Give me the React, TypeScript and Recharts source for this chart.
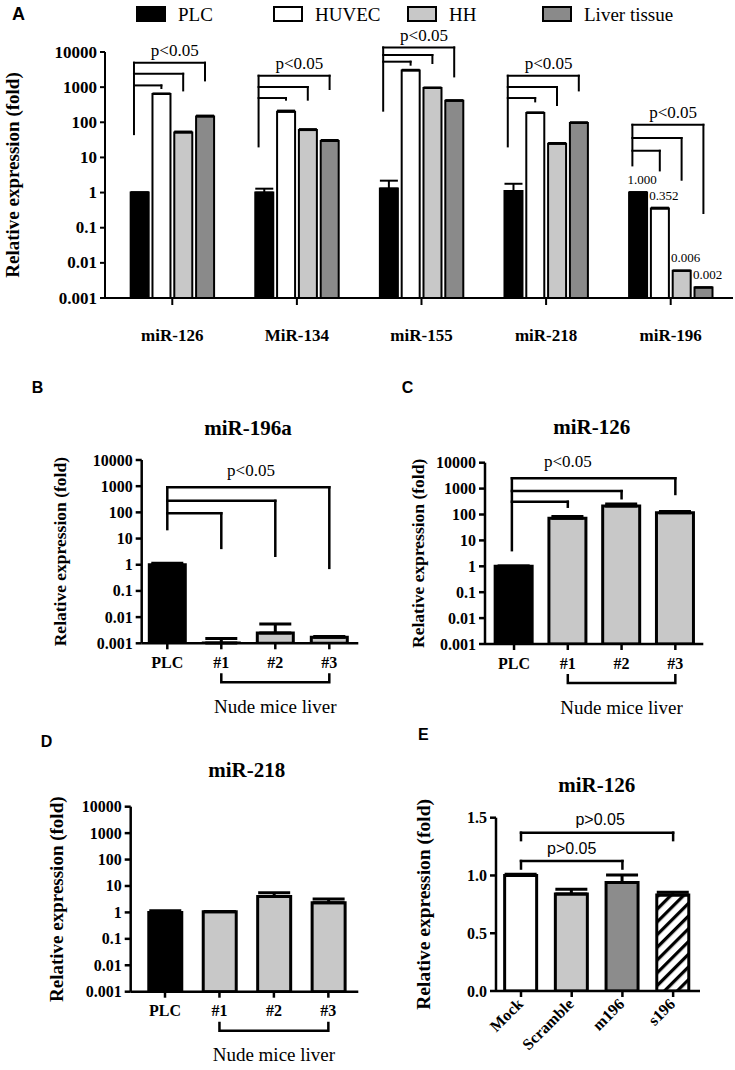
import React from 'react'
import { BarChart, Bar, XAxis, YAxis, ErrorBar, Cell, ReferenceLine, ReferenceDot, LabelList } from 'recharts'

const SERIF = '"Liberation Serif", "Times New Roman", Times, serif'
const SANS = '"Liberation Sans", Arial, Helvetica, sans-serif'

// ---- A: expression in cell lines / tissue (log fold)
const categoriesA = ['miR-126', 'MiR-134', 'miR-155', 'miR-218', 'miR-196']
const seriesA = ['PLC', 'HUVEC', 'HH', 'Liver tissue']
const plcA = [1.0, 1.0, 1.3, 1.1, 1.0]
const plcErrA = [0.02, 0.29, 0.88, 0.68, 0.03]
const huvecA = [637, 200, 3000, 184, 0.352]
const huvecErrA = [25, 15, 120, 8, 0.02]
const hhA = [51.5, 60, 945, 24.5, 0.006]
const hhErrA = [3, 4, 35, 1.2, 0]
const liverA = [147, 29.3, 411, 95.5, 0.002]
const liverErrA = [8, 2, 15, 5, 0]
const labeledCategoryA = 'miR-196'
// brackets: level of each arm (low -> high), where each right leg stops, where the shared left leg stops
const sigLevelsA = [[1120, 2410, 4960], [490, 1007, 2118], [5300, 8220, 13500], [490, 1007, 2118], [15.5, 35.7, 85]]
const sigDropsA = [[944, 807, 1555], [440, 440, 884], [4350, 4860, 2020], [393, 310, 807], [4.27, 2.32, 0.262]]
const sigRootA = [46, 20.6, 214, 20.6, 5.93]

// ---- B / C / D: nude mice liver
const categoriesNude = ['PLC', '#1', '#2', '#3']
const nudeGroup = ['#1', '#3']
const mir196aValues = [1.0, 0.00103, 0.0025, 0.0017]
const mir196aErrors = [0.15, 0.0005, 0.003, 0.0001]
const sigLevelsB = [93, 275, 912]
const sigDropsB = [4.4, 2.2, 0.76]
const sigRootB = 23
const mir126Values = [1.0, 71, 213, 117]
const mir126Errors = [0.03, 12, 42, 15]
const sigLevelsC = [310, 800, 2500]
const sigDropsC = [200, 425, 620]
const sigRootC = 4.2
const mir218Values = [1.0, 1.05, 4.0, 2.3]
const mir218Errors = [0.15, 0.03, 1.6, 0.9]

// ---- E: miR-126 after treatment (linear)
const categoriesE = ['Mock', 'Scramble', 'm196', 's196']
const mir126TreatValues = [1.0, 0.84, 0.94, 0.83]
const mir126TreatErrors = [0.01, 0.04, 0.065, 0.025]
const sigPairsE = [['Mock', 'm196'], ['Mock', 's196']]
const sigLevelsE = [1.125, 1.37]
const sigDropsE = [1.06, 1.306]

const LOG_TICKS = [0.001, 0.01, 0.1, 1, 10, 100, 1000, 10000]
const LIN_TICKS_E = [0, 0.5, 1.0, 1.5]

const FILL_A = ['#000000', '#ffffff', '#c8c8c8', '#8a8a8a']
const FILL_NUDE = ['#000000', '#c8c8c8', '#c8c8c8', '#c8c8c8']
const FILL_E = ['#ffffff', '#c8c8c8', '#8c8c8c', 'url(#hatchS196)']

const PITCH_A = 0.175
const seriesValuesA = [plcA, huvecA, hhA, liverA]
const seriesErrorsA = [plcErrA, huvecErrA, hhErrA, liverErrA]
const rowsA = categoriesA.flatMap((cat, g) =>
  seriesValuesA.map((vals, s) => ({
    x: g + (s - 1.5) * PITCH_A,
    value: vals[g],
    err: [0, seriesErrorsA[s][g]],
    series: s,
    note: cat === labeledCategoryA ? vals[g].toFixed(3) : undefined,
  }))
)

const singleRows = (values: number[], errors: number[]) =>
  values.map((v, i) => ({ x: i, value: v, err: [0, errors[i]] }))

const rowsB = singleRows(mir196aValues, mir196aErrors)
const rowsC = singleRows(mir126Values, mir126Errors)
const rowsD = singleRows(mir218Values, mir218Errors)
const rowsE = singleRows(mir126TreatValues, mir126TreatErrors)

const axisStyle = (w: number) => ({ stroke: '#000', strokeWidth: w })
const font = (family: string, size: number, bold = false): React.CSSProperties => ({
  fontFamily: family,
  fontSize: size,
  fontWeight: bold ? 700 : 400,
  fill: '#000',
})

function seg(key: string, x1: number, y1: number, x2: number, y2: number, sw: number) {
  return (
    <ReferenceLine
      key={key}
      segment={[{ x: x1, y: y1 }, { x: x2, y: y2 }]}
      stroke="#000"
      strokeWidth={sw}
      strokeLinecap="square"
      ifOverflow="visible"
    />
  )
}

function bracketTree(key: string, rootX: number, rootEnd: number, levels: number[], rightXs: number[], drops: number[], sw: number) {
  const top = Math.max(...levels)
  const out = [seg(key + 'root', rootX, rootEnd, rootX, top, sw)]
  levels.forEach((lv, k) => {
    out.push(seg(key + 'h' + k, rootX, lv, rightXs[k], lv, sw))
    out.push(seg(key + 'v' + k, rightXs[k], lv, rightXs[k], drops[k], sw))
  })
  return out
}

function pMark(key: string, x: number, y: number, text: string, lift: number, family: string, size: number) {
  return (
    <ReferenceDot
      key={key}
      x={x}
      y={y}
      r={1}
      fill="none"
      stroke="none"
      ifOverflow="visible"
      label={(props: any) => {
        const vb = props.viewBox
        if (!vb) return null
        return (
          <text
            x={vb.x + (vb.width || 0) / 2}
            y={vb.y + (vb.height || 0) / 2 - lift}
            textAnchor="middle"
            dominantBaseline="central"
            style={font(family, size)}
          >
            {text}
          </text>
        )
      }}
    />
  )
}

const yLabel = (dx: number, size: number) => (props: any) => {
  const vb = props.viewBox
  if (!vb) return null
  const cx = vb.x + dx
  const cy = vb.y + vb.height / 2
  return (
    <text x={cx} y={cy} transform={`rotate(-90 ${cx} ${cy})`} textAnchor="middle" dominantBaseline="central" style={font(SERIF, size, true)}>
      Relative expression (fold)
    </text>
  )
}

const nudeLabel = (domain: [number, number]) => (props: any) => {
  const vb = props.viewBox
  if (!vb) return null
  const px = (v: number) => vb.x + ((v - domain[0]) / (domain[1] - domain[0])) * vb.width
  const a = categoriesNude.indexOf(nudeGroup[0])
  const b = categoriesNude.indexOf(nudeGroup[1])
  const y0 = vb.y
  return (
    <g>
      <path d={`M${px(a)},${y0 + 30} V${y0 + 39} H${px(b)} V${y0 + 30}`} fill="none" stroke="#000" strokeWidth={2.5} />
      <text x={px((a + b) / 2)} y={y0 + 63} textAnchor="middle" dominantBaseline="central" style={font(SERIF, 19)}>
        Nude mice liver
      </text>
    </g>
  )
}

const tickA = ({ x, y, payload }: any) => (
  <text x={x} y={y + 35} textAnchor="middle" style={font(SERIF, 17, true)}>
    {categoriesA[Math.round(payload.value)]}
  </text>
)

const tickNude = ({ x, y, payload }: any) => (
  <text x={x} y={y + 16.5} textAnchor="middle" style={font(SERIF, 16, true)}>
    {categoriesNude[Math.round(payload.value)]}
  </text>
)

const tickE = ({ x, y, payload }: any) => {
  const tx = x + 3
  const ty = y + 6
  return (
    <text x={tx} y={ty} transform={`rotate(-45 ${tx} ${ty})`} textAnchor="end" style={font(SERIF, 16, true)}>
      {categoriesE[Math.round(payload.value)]}
    </text>
  )
}

const yTick = (size: number, fmt: (v: number) => string) => ({ x, y, payload }: any) => (
  <text x={x} y={y} textAnchor="end" dominantBaseline="central" style={font(SERIF, size, true)}>
    {fmt(payload.value)}
  </text>
)

const noteLabel = (p: any) => {
  if (p.value == null) return null
  const vb = p.viewBox || p
  return (
    <text x={vb.x + vb.width / 2 + 4} y={vb.y - 8.5} textAnchor="middle" style={font(SERIF, 13)}>
      {p.value}
    </text>
  )
}

type LogPanelProps = {
  left: number
  top: number
  width: number
  height: number
  margin: { top: number; right: number; bottom: number; left: number }
  yWidth: number
  xHeight: number
  labelDx: number
  labelSize: number
  domainX: [number, number]
  rows: { x: number; value: number; err: number[] }[]
  barSize: number
  children?: React.ReactNode
}

function LogNudePanel({ left, top, width, height, margin, yWidth, xHeight, labelDx, labelSize, domainX, rows, barSize, children }: LogPanelProps) {
  return (
    <div style={{ position: 'absolute', left, top }}>
      <BarChart width={width} height={height} data={rows} margin={margin}>
        <XAxis
          dataKey="x"
          type="number"
          domain={domainX}
          ticks={categoriesNude.map((_, i) => i)}
          interval={0}
          allowDataOverflow
          height={xHeight}
          tick={tickNude}
          tickSize={6}
          tickMargin={2}
          axisLine={axisStyle(2.5)}
          tickLine={axisStyle(2.5)}
          label={nudeLabel(domainX)}
        />
        <YAxis
          type="number"
          scale="log"
          domain={[0.001, 10000]}
          ticks={LOG_TICKS}
          interval={0}
          allowDataOverflow
          width={yWidth}
          tick={yTick(16, (v) => String(v))}
          tickSize={6}
          tickMargin={3}
          axisLine={axisStyle(2.5)}
          tickLine={axisStyle(2.5)}
          label={yLabel(labelDx, labelSize)}
        />
        <Bar dataKey="value" barSize={barSize} stroke="#000" strokeWidth={3} isAnimationActive={false}>
          {rows.map((r, i) => (
            <Cell key={i} fill={FILL_NUDE[i]} />
          ))}
          <ErrorBar dataKey="err" direction="y" width={16} stroke="#000" strokeWidth={3} isAnimationActive={false} />
        </Bar>
        {children}
      </BarChart>
    </div>
  )
}

export default function App() {
  const legendX = [137, 274, 408, 543]
  return (
    <div style={{ position: 'absolute', left: 0, top: 0, width: 735, height: 1070, background: '#fff', overflow: 'hidden' }}>
      {/* Panel A */}
      <div style={{ position: 'absolute', left: 0, top: 0 }}>
        <BarChart width={735} height={345} data={rowsA} margin={{ top: 52, right: 2, bottom: 7, left: 0 }}>
          <XAxis
            dataKey="x"
            type="number"
            domain={[-0.54, 4.5]}
            ticks={categoriesA.map((_, i) => i)}
            interval={0}
            allowDataOverflow
            height={40}
            tick={tickA}
            tickSize={7}
            tickMargin={1}
            axisLine={axisStyle(2)}
            tickLine={axisStyle(2)}
          />
          <YAxis
            type="number"
            scale="log"
            domain={[0.001, 10000]}
            ticks={LOG_TICKS}
            interval={0}
            allowDataOverflow
            width={105}
            tick={yTick(17, (v) => String(v))}
            tickSize={5}
            tickMargin={3}
            axisLine={axisStyle(2)}
            tickLine={axisStyle(2)}
            label={yLabel(12, 19)}
          />
          <Bar dataKey="value" barSize={18} stroke="#000" strokeWidth={2} isAnimationActive={false}>
            {rowsA.map((r, i) => (
              <Cell key={i} fill={FILL_A[r.series]} />
            ))}
            <ErrorBar dataKey="err" direction="y" width={9} stroke="#000" strokeWidth={2} isAnimationActive={false} />
            <LabelList dataKey="note" content={noteLabel} />
          </Bar>
          {categoriesA.flatMap((cat, g) =>
            bracketTree(
              'a' + g,
              g - 1.5 * PITCH_A - 0.045,
              sigRootA[g],
              sigLevelsA[g],
              [1, 2, 3].map((s) => g + (s - 1.5) * PITCH_A),
              sigDropsA[g],
              2
            )
          )}
          {categoriesA.map((cat, g) => pMark('pa' + g, g + 0.02, Math.max(...sigLevelsA[g]), 'p<0.05', 12, SERIF, 17))}
        </BarChart>
      </div>

      {/* Panel B */}
      <LogNudePanel
        left={40}
        top={440}
        width={330}
        height={290}
        margin={{ top: 20, right: 11.7, bottom: 6.7, left: 0 }}
        yWidth={101.7}
        xHeight={80}
        labelDx={20}
        labelSize={17.5}
        domainX={[-0.474, 3.537]}
        rows={rowsB}
        barSize={36}
      >
        {bracketTree('b', 0, sigRootB, sigLevelsB, [1, 2, 3], sigDropsB, 2.5)}
        {pMark('pb', 1.55, Math.max(...sigLevelsB), 'p<0.05', 17, SERIF, 17)}
      </LogNudePanel>

      {/* Panel C */}
      <LogNudePanel
        left={400}
        top={440}
        width={310}
        height={290}
        margin={{ top: 22.7, right: 6.7, bottom: 6, left: 0 }}
        yWidth={85}
        xHeight={80}
        labelDx={18.3}
        labelSize={17.5}
        domainX={[-0.54, 3.52]}
        rows={rowsC}
        barSize={37}
      >
        {bracketTree('c', -0.04, sigRootC, sigLevelsC, [1, 2, 3], sigDropsC, 2.5)}
        {pMark('pc', 1.0, Math.max(...sigLevelsC), 'p<0.05', 17, SERIF, 17)}
      </LogNudePanel>

      {/* Panel D */}
      <LogNudePanel
        left={30}
        top={785}
        width={330}
        height={285}
        margin={{ top: 21.7, right: 1.7, bottom: 3.3, left: 0 }}
        yWidth={100.7}
        xHeight={75}
        labelDx={26.7}
        labelSize={19}
        domainX={[-0.63, 3.55]}
        rows={rowsD}
        barSize={33}
      />

      {/* Panel E */}
      <div style={{ position: 'absolute', left: 400, top: 795 }}>
        <BarChart width={310} height={275} data={rowsE} margin={{ top: 22.7, right: 10, bottom: 9, left: 0 }}>
          <defs>
            <pattern id="hatchS196" width="9" height="9" patternUnits="userSpaceOnUse" patternTransform="rotate(45)">
              <rect width="9" height="9" fill="#ffffff" />
              <line x1="1.5" y1="0" x2="1.5" y2="9" stroke="#000" strokeWidth="3.5" />
            </pattern>
          </defs>
          <XAxis
            dataKey="x"
            type="number"
            domain={[-0.493, 3.53]}
            ticks={categoriesE.map((_, i) => i)}
            interval={0}
            allowDataOverflow
            height={70}
            tick={tickE}
            tickSize={6}
            tickMargin={2}
            axisLine={axisStyle(2.5)}
            tickLine={axisStyle(2.5)}
          />
          <YAxis
            type="number"
            domain={[0, 1.5]}
            ticks={LIN_TICKS_E}
            interval={0}
            allowDataOverflow
            width={96}
            tick={yTick(16, (v) => v.toFixed(1))}
            tickSize={6}
            tickMargin={3}
            axisLine={axisStyle(2.5)}
            tickLine={axisStyle(2.5)}
            label={yLabel(23.3, 19.5)}
          />
          <Bar dataKey="value" barSize={32} stroke="#000" strokeWidth={3} isAnimationActive={false}>
            {rowsE.map((r, i) => (
              <Cell key={i} fill={FILL_E[i]} />
            ))}
            <ErrorBar dataKey="err" direction="y" width={16} stroke="#000" strokeWidth={3} isAnimationActive={false} />
          </Bar>
          {sigPairsE.flatMap(([from, to], k) => {
            const a = categoriesE.indexOf(from)
            const b = categoriesE.indexOf(to)
            return [
              seg('e' + k + 'l', a, sigDropsE[k], a, sigLevelsE[k], 2.5),
              seg('e' + k + 'h', a, sigLevelsE[k], b, sigLevelsE[k], 2.5),
              seg('e' + k + 'r', b, sigLevelsE[k], b, sigDropsE[k], 2.5),
            ]
          })}
          {sigPairsE.map(([from, to], k) =>
            pMark('pe' + k, (categoriesE.indexOf(from) + categoriesE.indexOf(to)) / 2 + (k === 1 ? 0.06 : 0), sigLevelsE[k], 'p>0.05', 13, SANS, 16)
          )}
        </BarChart>
      </div>

      {/* panel letters, legend, titles */}
      <svg width={735} height={1070} style={{ position: 'absolute', left: 0, top: 0, pointerEvents: 'none' }}>
        <text x={12} y={20} style={font(SANS, 18, true)}>A</text>
        <text x={31.7} y={392.7} style={font(SANS, 16, true)}>B</text>
        <text x={401.7} y={392.7} style={font(SANS, 16, true)}>C</text>
        <text x={40.7} y={746.7} style={font(SANS, 16, true)}>D</text>
        <text x={418} y={740} style={font(SANS, 16, true)}>E</text>

        {seriesA.map((name, s) => (
          <g key={name}>
            <rect x={legendX[s]} y={7} width={28} height={14} fill={FILL_A[s]} stroke="#000" strokeWidth={2} />
            <text x={legendX[s] + 41} y={20.5} style={font(SERIF, 19)}>{name}</text>
          </g>
        ))}

        <text x={248} y={435} textAnchor="middle" style={font(SERIF, 21, true)}>miR-196a</text>
        <text x={591.7} y={433.7} textAnchor="middle" style={font(SERIF, 21, true)}>miR-126</text>
        <text x={246.7} y={777} textAnchor="middle" style={font(SERIF, 21, true)}>miR-218</text>
        <text x={596.7} y={792} textAnchor="middle" style={font(SERIF, 21, true)}>miR-126</text>
      </svg>
    </div>
  )
}
